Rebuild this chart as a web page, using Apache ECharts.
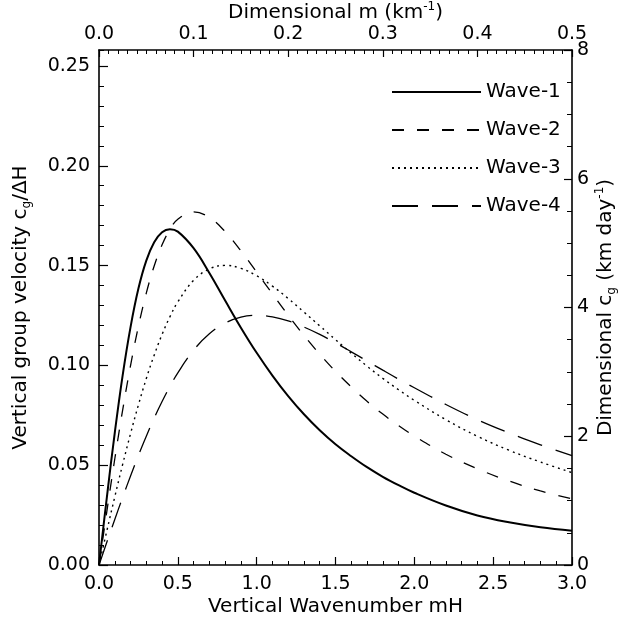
<!DOCTYPE html>
<html>
<head>
<meta charset="utf-8">
<script src="https://cdn.jsdelivr.net/npm/echarts@6/dist/echarts.min.js"></script>
<style>
html,body{margin:0;padding:0;background:#fff;}
#chart{width:625px;height:627px;}
</style>
</head>
<body>
<div id="chart"></div>
<script>
// Vertical wavenumber mH (x positions of sampled points)
const mH = [0, 0.05, 0.1, 0.15, 0.2, 0.25, 0.3, 0.35, 0.4, 0.45, 0.5, 0.6, 0.7, 0.8, 0.9, 1.0,
            1.1, 1.2, 1.3, 1.4, 1.5, 1.6, 1.7, 1.8, 1.9, 2.0, 2.2, 2.4, 2.6, 2.8, 3.0];
// Vertical group velocity cg/ΔH
const wave1 = [0, 0.0340, 0.0662, 0.0950, 0.1192, 0.1385, 0.1525, 0.1617, 0.1667, 0.1682, 0.1670, 0.1587, 0.1463, 0.1325, 0.1189, 0.1063,
               0.0949, 0.0846, 0.0755, 0.0675, 0.0605, 0.0545, 0.0490, 0.0442, 0.0400, 0.0362, 0.0298, 0.0248, 0.0214, 0.0189, 0.0172];
const wave2 = [0, 0.0270, 0.0531, 0.0776, 0.0999, 0.1195, 0.1362, 0.1498, 0.1604, 0.1681, 0.1732, 0.1769, 0.1741, 0.1670, 0.1574, 0.1467,
               0.1358, 0.1251, 0.1150, 0.1056, 0.0970, 0.0892, 0.0820, 0.0756, 0.0698, 0.0646, 0.0555, 0.0482, 0.0421, 0.0371, 0.0332];
const wave3 = [0, 0.0172, 0.0341, 0.0504, 0.0658, 0.0802, 0.0934, 0.1051, 0.1155, 0.1244, 0.1318, 0.1426, 0.1483, 0.1501, 0.1486, 0.1449,
               0.1397, 0.1335, 0.1267, 0.1198, 0.1129, 0.1061, 0.0996, 0.0935, 0.0878, 0.0825, 0.0728, 0.0645, 0.0575, 0.0516, 0.0463];
const wave4 = [0, 0.0115, 0.0228, 0.0339, 0.0446, 0.0549, 0.0645, 0.0736, 0.0819, 0.0895, 0.0963, 0.1076, 0.1158, 0.1212, 0.1242, 0.1251,
               0.1243, 0.1223, 0.1192, 0.1155, 0.1113, 0.1068, 0.1022, 0.0976, 0.0931, 0.0888, 0.0804, 0.0728, 0.0662, 0.0602, 0.0548];
const seriesNames = ['Wave-1', 'Wave-2', 'Wave-3', 'Wave-4'];
const bottomTicks = ['0.0', '0.5', '1.0', '1.5', '2.0', '2.5', '3.0'];
const topTicks = ['0.0', '0.1', '0.2', '0.3', '0.4', '0.5'];
const leftTicks = ['0.00', '0.05', '0.10', '0.15', '0.20', '0.25'];
const rightTicks = ['0', '2', '4', '6', '8'];

const FONT = 'DejaVu Sans';
const FS = 19;
const NFS = 20;
const YMAX = 0.258;

function pairs(ys) { return mH.map((x, i) => [x, ys[i]]); }

const axisLineStyle = {show: true, onZero: false, lineStyle: {color: '#000', width: 1.6}};
const labelStyle = {color: '#000', fontFamily: FONT, fontSize: FS};
const richText = {
  sub: {fontFamily: FONT, fontSize: 12, lineHeight: 12, verticalAlign: 'bottom', color: '#000'},
  sup: {fontFamily: FONT, fontSize: 12, lineHeight: 12, verticalAlign: 'top', color: '#000'}
};
const nameStyle = {color: '#000', fontFamily: FONT, fontSize: NFS, lineHeight: 24, rich: richText};

function fmtFrom(list, dec) {
  return function (v) {
    const s = v.toFixed(dec);
    return list.indexOf(s) >= 0 ? s : '';
  };
}

const styles = [
  {type: 'solid', width: 2},
  {type: [12, 13], width: 1.3},
  {type: [2, 4], width: 1.4},
  {type: [26, 14], width: 1.3}
];
const datas = [wave1, wave2, wave3, wave4];

const option = {
  animation: false,
  backgroundColor: '#fff',
  grid: {left: 99, right: 53, top: 50, bottom: 62, containLabel: false, outerBoundsMode: 'none'},
  legend: {
    orient: 'vertical', left: 386, top: 77,
    itemWidth: 89, itemHeight: 14, itemGap: 18,
    itemStyle: {opacity: 0},
    textStyle: {color: '#000', fontFamily: FONT, fontSize: 20},
    data: seriesNames
  },
  xAxis: [
    {
      type: 'value', position: 'bottom', min: 0, max: 3, interval: 0.5,
      name: 'Vertical Wavenumber mH', nameLocation: 'middle', nameGap: 30, nameMoveOverlap: false, nameTextStyle: nameStyle,
      axisLine: axisLineStyle,
      axisTick: {show: true, inside: true, length: 8, lineStyle: {color: '#000', width: 1.2}},
      minorTick: {show: true, splitNumber: 5, length: 4, lineStyle: {color: '#000', width: 1}},
      axisLabel: Object.assign({margin: 10, formatter: fmtFrom(bottomTicks, 1)}, labelStyle),
      splitLine: {show: false}
    },
    {
      type: 'value', position: 'top', min: 0, max: 0.5, interval: 0.1,
      name: 'Dimensional m (km{sup|-1})', nameLocation: 'middle', nameGap: 25, nameMoveOverlap: false, nameTextStyle: nameStyle,
      axisLine: axisLineStyle,
      axisTick: {show: true, inside: true, length: 7, lineStyle: {color: '#000', width: 1.2}},
      minorTick: {show: true, splitNumber: 10, length: 4, lineStyle: {color: '#000', width: 1}},
      axisLabel: Object.assign({margin: 6, formatter: fmtFrom(topTicks, 1)}, labelStyle),
      splitLine: {show: false}
    }
  ],
  yAxis: [
    {
      type: 'value', position: 'left', min: 0, max: YMAX, interval: 0.05,
      name: 'Vertical group velocity c{sub|g}/ΔH', nameLocation: 'middle', nameGap: 66, nameMoveOverlap: false, nameTextStyle: nameStyle,
      axisLine: axisLineStyle,
      axisTick: {show: true, inside: true, length: 9, lineStyle: {color: '#000', width: 1.2}},
      axisLabel: Object.assign({margin: 9, showMaxLabel: false, formatter: fmtFrom(leftTicks, 2)}, labelStyle),
      splitLine: {show: false}
    },
    {
      type: 'value', position: 'right', min: 0, max: 8, interval: 2,
      name: 'Dimensional c{sub|g} (km day{sup|-1})', nameLocation: 'middle', nameGap: 22, nameMoveOverlap: false, nameTextStyle: nameStyle,
      axisLine: axisLineStyle,
      axisTick: {show: true, inside: true, length: 8, lineStyle: {color: '#000', width: 1.2}},
      minorTick: {show: true, splitNumber: 4, length: 5, lineStyle: {color: '#000', width: 1}},
      axisLabel: Object.assign({margin: 5, formatter: fmtFrom(rightTicks, 0)}, labelStyle),
      splitLine: {show: false}
    },
    {
      type: 'value', position: 'left', min: 0, max: YMAX, interval: 0.01,
      axisLine: {show: false},
      axisTick: {show: true, inside: true, length: 5, lineStyle: {color: '#000', width: 1}},
      axisLabel: {show: false},
      splitLine: {show: false}
    }
  ],
  series: seriesNames.map((n, i) => ({
    name: n, type: 'line', xAxisIndex: 0, yAxisIndex: 0,
    data: pairs(datas[i]),
    smooth: 0.4, symbol: 'none', showSymbol: false,
    lineStyle: {color: '#000', width: styles[i].width, type: styles[i].type},
    itemStyle: {color: '#000'}
  }))
};

const chart = echarts.init(document.getElementById('chart'), null, {renderer: 'canvas'});
chart.setOption(option);
</script>
</body>
</html>
